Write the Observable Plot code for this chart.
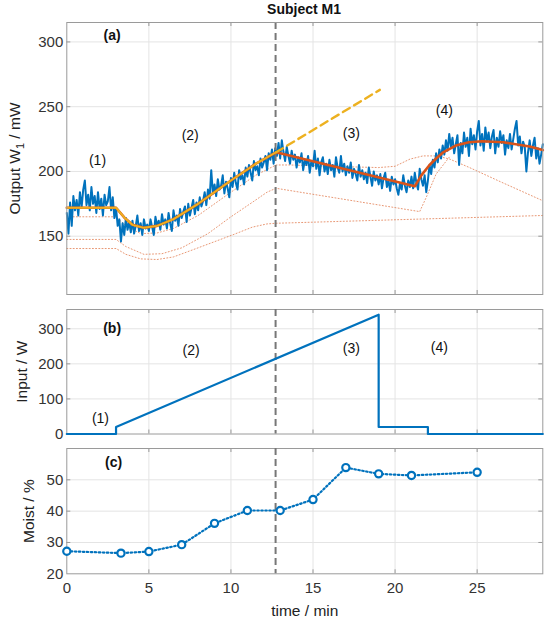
<!DOCTYPE html>
<html><head><meta charset="utf-8">
<script src="https://cdn.jsdelivr.net/npm/d3@7"></script>
<script src="https://cdn.jsdelivr.net/npm/@observablehq/plot@0.6"></script>
<style>
body{margin:0;background:#fff;font-family:"Liberation Sans",Arial,sans-serif;}
#c{position:relative;width:550px;height:620px;overflow:hidden;}
.p{position:absolute;left:0;}
#title{position:absolute;left:204px;width:200px;top:1px;text-align:center;font-weight:bold;font-size:14px;line-height:16px;color:#111;}
</style></head><body>
<div id="c">
<div id="title">Subject M1</div>
<div class="p" id="pa" style="top:18px"></div>
<div class="p" id="pb" style="top:300px"></div>
<div class="p" id="pc" style="top:440px"></div>
</div>
<script>
// ---------- data ----------
const xDomain = [0, 29];
const xTicks = [0, 5, 10, 15, 20, 25];
const changeTime = 12.72;

// (a) measured output W1 (mW), sampled every 0.1 min from t = 0 (one row per minute)
const outputStep = 0.1;
const outputW1 = [
  168,152,176,158,181,170,178,166,184,172,
  186,193,174,182,170,188,175,181,168,184,
  171,179,166,182,174,177,188,170,180,164,
  172,158,163,146,160,151,164,155,161,153,
  162,152,158,166,154,160,151,163,156,159,
  154,163,157,151,165,158,162,155,167,159,
  163,156,168,160,154,170,162,166,158,171,
  164,169,173,161,175,166,172,178,167,176,
  170,180,173,177,184,174,186,179,201,183,
  190,181,194,186,189,197,183,192,187,180,
  195,188,199,191,186,201,194,197,190,203,
  196,205,199,193,208,201,204,197,210,203,
  207,212,201,214,209,217,206,218,212,222,
  210,224,215,208,219,212,206,216,209,213,
  203,211,207,214,201,209,205,212,199,208,
  204,216,202,210,197,207,211,200,206,198,
  209,201,205,196,211,203,199,212,200,206,
  197,204,199,207,195,202,198,193,205,196,
  201,194,199,191,203,196,189,200,193,197,
  190,198,187,195,199,188,193,185,196,190,
  194,187,182,191,186,197,189,184,193,188,
  196,187,199,191,186,202,194,189,197,184,
  193,205,198,209,203,214,207,217,210,220,
  213,224,216,229,219,226,214,221,228,205,
  222,214,230,219,226,212,233,221,228,217,
  231,239,220,229,216,234,223,230,218,227,
  232,214,226,219,231,222,228,213,224,218,
  229,217,225,233,239,220,227,214,223,219,
  200,215,224,212,220,226,210,218,206,213,
  221
];
// full model fit
const fitT = [0,3,3.5,4,4.7,5.5,6.5,8,10,11.5,12.75,21.2,21.6,22.1,22.5,22.9,23.7,24.5,25.3,26.6,28.2,29];
const fitV = [172,172,164.5,158.8,156.5,158,163.2,175,193,205.8,214.8,188.5,197,205,210,214.5,220,222.5,223.3,222.5,219.2,216.5];
// model of phases (1)-(2) and its extrapolation
const modelT = [0,3,3.5,4,4.7,5.5,6.5,8,10,11.5,12.75];
const modelV = [172,172,164.5,158.8,156.5,158,163.2,175,193,205.8,214.8];
const extrapT = [12.75, 19.07];
const extrapV = [214.8, 263];
// model components (dotted)
const comp1T = [0,3,3.6,4.5,5.5,6.5,8.1,10.1,11.3,12.2,12.75,29];
const comp1V = [140.5,140.5,136,132.5,132,134,141.5,151,157,159.5,160,166];
const comp2T = [0,3,3.6,4.7,5.8,7,8.6,10,11.4,12.2,12.75,21.5,21.9,22.5,23.3];
const comp2V = [147.5,147.5,142,136,136.5,141,152,165,177,184,187,169,180,198,211];
const comp3T = [0,3,3.6,4.5,5.5,6.5,8,10,11.5,12.75,13.6,16,19,20,20.9,21.7,22.5,23.3,24.5,26.5,29];
const comp3V = [165,165,158,152,152.5,156,166,184,197,205,205,204,203,204,209.5,212,212,209.7,203.2,191.6,177.4];
const aTicks = [150, 200, 250, 300];
const aLabelT = [1.87, 7.52, 17.34, 23.0];
const aLabelV = [208.4, 227.7, 229.3, 247];
const phaseText = ["(1)", "(2)", "(3)", "(4)"];

// (b) input power (W)
const inputT = [0,3,3,19,19,22,22,29];
const inputV = [0,0,20,340,20,20,0,0];
const bTicks = [0, 100, 200, 300];
const bLabelT = [2.05, 7.57, 17.34, 22.7];
const bLabelV = [43, 239, 244, 246];

// (c) moisture (%)
const moistT = [0,3.3,5,7,9,11,13,15,17,19,21,25];
const moistV = [27.2,26.6,27.1,29.3,36.1,40.2,40.2,43.7,53.9,51.9,51.4,52.4];
const cTicks = [20, 30, 40, 50];

// ---------- styling ----------
const W = 550, ML = 66.3, MR = 7.7;
const blue = "#0072BD", red = "#D95319", yellow = "#EDB120";
const frameColor = "#9a9a9a", gridColor = "#e4e4e4";
const baseStyle = {fontFamily: "'Liberation Sans', Arial, sans-serif", fontSize: "15px", color: "#333", background: "white", overflow: "visible"};
const zip = (T, V) => T.map((t, i) => ({t, v: V[i]}));

function boxMarks(yTicks, yDomain, frameH) {
  const frameW = W - ML - MR;
  const gx = xTicks.filter(d => d > xDomain[0] && d < xDomain[1]);
  const gy = yTicks.filter(d => d > yDomain[0] && d < yDomain[1]);
  return [
    Plot.ruleX(gx, {stroke: gridColor}),
    Plot.ruleY(gy, {stroke: gridColor}),
    Plot.tickX(gx, {stroke: frameColor, insetTop: frameH - 4}),
    Plot.tickX(gx, {stroke: frameColor, insetBottom: frameH - 4}),
    Plot.tickY(gy, {stroke: frameColor, insetRight: frameW - 4}),
    Plot.tickY(gy, {stroke: frameColor, insetLeft: frameW - 4}),
    Plot.axisY(yTicks, {tickSize: 0, tickPadding: 3.5, label: null, fill: "#333"}),
  ];
}
function yLabel(s, dx) {
  return Plot.text([s], {text: d => d, frameAnchor: "left", dx, rotate: -90, textAnchor: "middle", lineAnchor: "bottom", fontSize: 15.5, fill: "#222"});
}
const changeRule = Plot.ruleX([changeTime], {stroke: "#777", strokeWidth: 2, strokeDasharray: "7,4"});
const dotted = {x: "t", y: "v", stroke: red, strokeOpacity: 0.6, strokeWidth: 1, strokeDasharray: "1,2.2"};

// ---------- panel (a) ----------
const signal = outputW1.map((v, i) => ({t: i * outputStep, v}));
const pa = Plot.plot({
  width: W, height: 276, marginTop: 4, marginBottom: 0, marginLeft: ML, marginRight: MR,
  style: baseStyle,
  x: {domain: xDomain, axis: null},
  y: {domain: [105, 315]},
  marks: [
    ...boxMarks(aTicks, [105, 315], 272),
    Plot.line(zip(comp1T, comp1V), dotted),
    Plot.line(zip(comp2T, comp2V), dotted),
    Plot.line(zip(comp3T, comp3V), dotted),
    Plot.line(signal, {x: "t", y: "v", stroke: blue, strokeWidth: 2}),
    changeRule,
    Plot.line(zip(fitT, fitV), {x: "t", y: "v", stroke: red, strokeWidth: 2.6}),
    Plot.line(zip(modelT, modelV), {x: "t", y: "v", stroke: yellow, strokeWidth: 1.9}),
    Plot.line(zip(extrapT, extrapV), {x: "t", y: "v", stroke: yellow, strokeWidth: 2.4, strokeDasharray: "8,5"}),
    Plot.frame({stroke: frameColor}),
    Plot.text(phaseText, {x: (d, i) => aLabelT[i], y: (d, i) => aLabelV[i], text: d => d, fontSize: 14, fill: "#111"}),
    Plot.text(["(a)"], {x: 2.76, y: 304.9, text: d => d, fontSize: 14, fontWeight: "bold", fill: "#111"}),
    yLabel("Output W\u2081 / mW", -47)
  ]
});
document.getElementById("pa").append(pa);
// render the subscript "1" of W1 as a real subscript
d3.select(pa).selectAll("text").each(function() {
  if (this.textContent === "Output W\u2081 / mW") {
    const t = d3.select(this);
    t.text(null);
    t.append("tspan").text("Output W");
    t.append("tspan").attr("dy", 4).attr("font-size", 11).text("1");
    t.append("tspan").attr("dy", -4).text(" / mW");
  }
});

// ---------- panel (b) ----------
const pb = Plot.plot({
  width: W, height: 133.5, marginTop: 9, marginBottom: 0, marginLeft: ML, marginRight: MR,
  style: baseStyle,
  x: {domain: xDomain, axis: null},
  y: {domain: [0, 355]},
  marks: [
    ...boxMarks(bTicks, [0, 355], 124.5),
    Plot.frame({stroke: frameColor}),
    changeRule,
    Plot.line(zip(inputT, inputV), {x: "t", y: "v", stroke: blue, strokeWidth: 2.2}),
    Plot.text(phaseText, {x: (d, i) => bLabelT[i], y: (d, i) => bLabelV[i], text: d => d, fontSize: 14, fill: "#111"}),
    Plot.text(["(b)"], {x: 2.76, y: 300, text: d => d, fontSize: 14, fontWeight: "bold", fill: "#111"}),
    yLabel("Input / W", -39.6)
  ]
});
document.getElementById("pb").append(pb);

// ---------- panel (c) ----------
const moist = zip(moistT, moistV);
const pc = Plot.plot({
  width: W, height: 180, marginTop: 8, marginBottom: 46.7, marginLeft: ML, marginRight: MR,
  style: baseStyle,
  x: {domain: xDomain},
  y: {domain: [20, 60]},
  marks: [
    ...boxMarks(cTicks, [20, 60], 125.3),
    Plot.axisX(xTicks, {tickSize: 0, tickPadding: 9, label: null, fill: "#333"}),
    Plot.frame({stroke: frameColor}),
    changeRule,
    Plot.line(moist, {x: "t", y: "v", stroke: blue, strokeWidth: 2.2, strokeDasharray: "1.5,2.5"}),
    Plot.dot(moist, {x: "t", y: "v", stroke: blue, fill: "white", r: 3.6, strokeWidth: 2.2}),
    Plot.text(["(c)"], {x: 2.85, y: 55.5, text: d => d, fontSize: 14, fontWeight: "bold", fill: "#111"}),
    Plot.text(["time / min"], {text: d => d, frameAnchor: "bottom", dy: 42.4, lineAnchor: "bottom", fontSize: 15.5, fill: "#222"}),
    yLabel("Moist / %", -33)
  ]
});
document.getElementById("pc").append(pc);
</script>
</body></html>
